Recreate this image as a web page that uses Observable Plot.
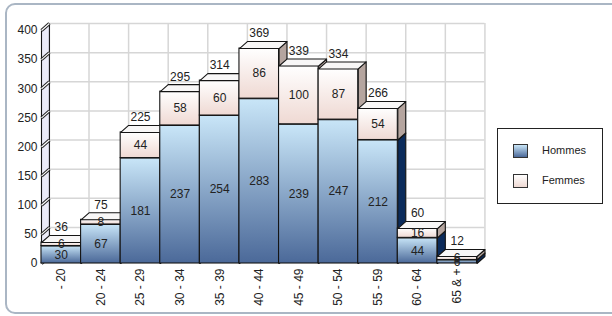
<!DOCTYPE html>
<html><head><meta charset="utf-8">
<script src="https://cdn.jsdelivr.net/npm/d3@7"></script>
<script src="https://cdn.jsdelivr.net/npm/@observablehq/plot@0.6"></script>
<style>
html,body{margin:0;padding:0;background:#fff;width:612px;height:316px;overflow:hidden;font-family:"Liberation Sans",Arial,sans-serif}
#frame{position:absolute;left:5px;top:3px;width:680px;height:311px;border:2px solid #aab6c4;border-radius:10px;box-sizing:border-box}
#chart{position:absolute;left:0;top:0}
#legend{position:absolute;left:497px;top:128px;width:106px;height:76px;border:1.5px solid #222;box-sizing:border-box;background:#fff}
.item{position:absolute;left:15px;font-size:11px;color:#222;height:15px;line-height:15px}
.sw{display:inline-block;width:13px;height:12px;border:1.5px solid #333;vertical-align:middle;margin-right:14px}
</style></head><body>
<div id="frame"></div>
<div id="chart"></div>
<div id="legend"></div>
<script>
const categories = ["- 20","20 - 24","25 - 29","30 - 34","35 - 39","40 - 44","45 - 49","50 - 54","55 - 59","60 - 64","65 & +"];
const hommes = [30, 67, 181, 237, 254, 283, 239, 247, 212, 44, 6];
const femmes = [6, 8, 44, 58, 60, 86, 100, 87, 54, 16, 6];
const totals = [36, 75, 225, 295, 314, 369, 339, 334, 266, 60, 12];
const yTicks = [0, 50, 100, 150, 200, 250, 300, 350, 400];
const seriesNames = ["Hommes", "Femmes"];

const K = 0.2;  // depth in x (data units)
const H = 12;   // depth in y (data units)
const stroke = "#151515";

const styles = [
  {front: "url(#gH)", side: "#0b2b5b", top: "#f3f5f7", css: "linear-gradient(#c9e6f8,#4b6999)"},
  {front: "url(#gF)", side: "#b5a59f", top: "#f8f7f7", css: "linear-gradient(#ffffff,#efd9d3)"}
];

const poly = (pts, fill) => Plot.line(pts, {x: "x", y: "y", curve: "linear-closed", fill, stroke, strokeWidth: 1.1, strokeLinejoin: "round"});

const marks = [];
// back wall grid
marks.push(Plot.ruleY(yTicks, {y: d => d + H, x1: K, x2: categories.length + K, stroke: "#d6d6d6", strokeWidth: 1.5}));
marks.push(Plot.ruleX(d3.range(categories.length + 1), {x: d => d + K, y1: H, y2: 400 + H, stroke: "#d6d6d6", strokeWidth: 1.5}));
// left wall
marks.push(poly([{x: 0, y: 0}, {x: 0, y: 400}, {x: K, y: 400 + H}, {x: K, y: H}], "#ebebf8"));
marks.push(Plot.link(yTicks, {x1: 0, y1: d => d, x2: K, y2: d => d + H, stroke: "#222", strokeWidth: 3.2}));
marks.push(Plot.link(yTicks, {x1: 0, y1: d => d, x2: K, y2: d => d + H, stroke: "#fff", strokeWidth: 1.2}));

categories.forEach((c, i) => {
  const segs = [[0, hommes[i]], [hommes[i], hommes[i] + femmes[i]]];
  segs.forEach(([y0, y1], s) => {
    const st = styles[s];
    marks.push(poly([{x: i + 1, y: y0}, {x: i + 1, y: y1}, {x: i + 1 + K, y: y1 + H}, {x: i + 1 + K, y: y0 + H}], st.side));
    marks.push(Plot.rect([{x1: i, x2: i + 1, y1: y0, y2: y1}], {x1: "x1", x2: "x2", y1: "y1", y2: "y2", fill: st.front, stroke, strokeWidth: 1.1}));
    marks.push(poly([{x: i, y: y1}, {x: i + 1, y: y1}, {x: i + 1 + K, y: y1 + H}, {x: i + K, y: y1 + H}], st.top));
  });
});

const idx = categories.map((c, i) => i);
const font = {fontSize: 12, fill: "#222"};
marks.push(Plot.text(idx, {x: i => i + 0.5, y: i => hommes[i] / 2, text: i => String(hommes[i]), ...font}));
marks.push(Plot.text(idx, {x: i => i + 0.5, y: i => hommes[i] + femmes[i] / 2, text: i => String(femmes[i]), ...font}));
marks.push(Plot.text(idx, {x: i => i + 0.5, y: i => totals[i], dy: -15, text: i => String(totals[i]), ...font}));
// y tick labels
marks.push(Plot.text(yTicks, {x: 0, y: d => d, dx: -4, textAnchor: "end", text: d => String(d), ...font}));
// x labels
marks.push(Plot.text(idx, {x: i => i + 0.5, y: 0, dy: 5, rotate: -90, textAnchor: "end", text: i => categories[i], ...font}));

const plot = Plot.plot({
  width: 612, height: 316,
  marginLeft: 41, marginTop: 0, marginRight: 0, marginBottom: 0,
  x: {type: "linear", domain: [0, 11], range: [41, 476.5], axis: null},
  y: {type: "linear", domain: [0, 400], range: [263, 30], axis: null},
  style: {fontFamily: "'Liberation Sans', Arial, sans-serif", fontSize: "12px", background: "transparent", overflow: "visible"},
  marks
});

const defs = d3.select(plot).insert("defs", ":first-child");
const gH = defs.append("linearGradient").attr("id", "gH").attr("x1", 0).attr("y1", 0).attr("x2", 0).attr("y2", 1);
gH.append("stop").attr("offset", "0%").attr("stop-color", "#c9e6f8");
gH.append("stop").attr("offset", "100%").attr("stop-color", "#4b6999");
const gF = defs.append("linearGradient").attr("id", "gF").attr("x1", 0).attr("y1", 0).attr("x2", 0).attr("y2", 1);
gF.append("stop").attr("offset", "0%").attr("stop-color", "#ffffff");
gF.append("stop").attr("offset", "100%").attr("stop-color", "#efd9d3");

document.getElementById("chart").appendChild(plot);

const legend = document.getElementById("legend");
seriesNames.forEach((name, s) => {
  const item = document.createElement("div");
  item.className = "item";
  item.style.top = (s === 0 ? 14 : 44) + "px";
  const sw = document.createElement("span");
  sw.className = "sw";
  sw.style.background = styles[s].css;
  item.appendChild(sw);
  item.appendChild(document.createTextNode(name));
  legend.appendChild(item);
});
</script>
</body></html>
